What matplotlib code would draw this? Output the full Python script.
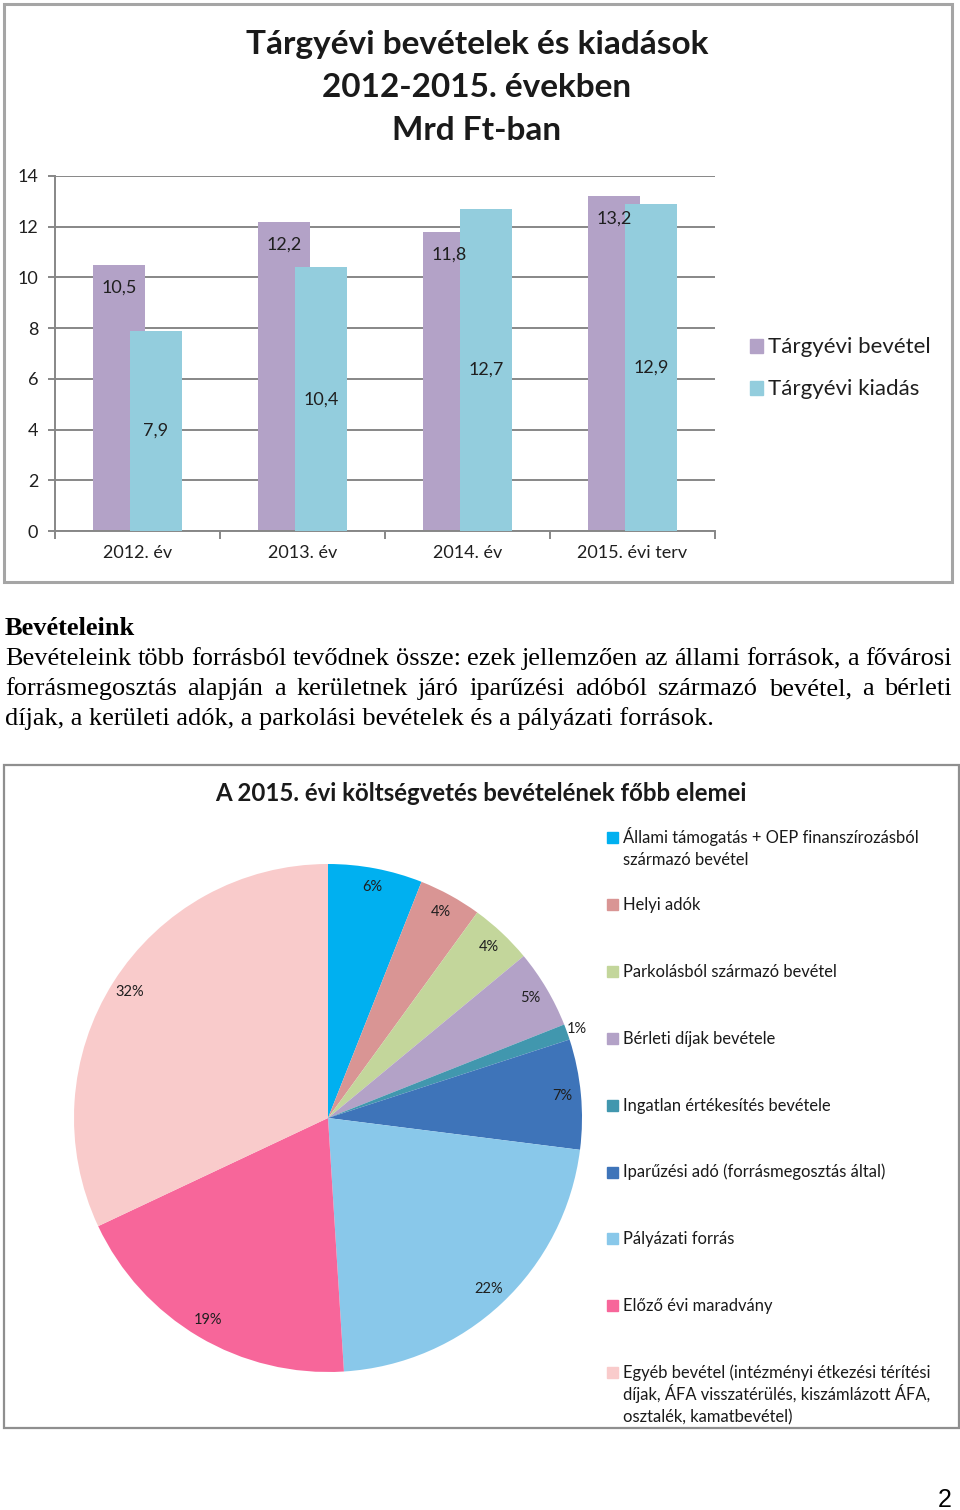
import numpy as np
import matplotlib
matplotlib.use("Agg")
import matplotlib.pyplot as plt
from matplotlib.patches import Rectangle

# bar chart data (Mrd Ft)
years = ["2012. év", "2013. év", "2014. év", "2015. évi terv"]
bevetel = [10.5, 12.2, 11.8, 13.2]
kiadas = [7.9, 10.4, 12.7, 12.9]
bar_series = ["Tárgyévi bevétel", "Tárgyévi kiadás"]
bar_title = ["Tárgyévi bevételek és kiadások", "2012-2015. években", "Mrd Ft-ban"]

# text between the charts
heading = "Bevételeink"
para_lines = [
    "Bevételeink több forrásból tevődnek össze: ezek jellemzően az állami források, a fővárosi",
    "forrásmegosztás alapján a kerületnek járó iparűzési adóból származó bevétel, a bérleti",
    "díjak, a kerületi adók, a parkolási bevételek és a pályázati források.",
]

# pie chart data (%)
pie_title = "A 2015. évi költségvetés bevételének főbb elemei"
pie_labels = [
    "Állami támogatás + OEP finanszírozásból\nszármazó bevétel",
    "Helyi adók",
    "Parkolásból származó bevétel",
    "Bérleti díjak bevétele",
    "Ingatlan értékesítés bevétele",
    "Iparűzési adó (forrásmegosztás által)",
    "Pályázati forrás",
    "Előző évi maradvány",
    "Egyéb bevétel (intézményi étkezési térítési\ndíjak, ÁFA visszatérülés, kiszámlázott ÁFA,\nosztalék, kamatbevétel)",
]
pie_values = [6, 4, 4, 5, 1, 7, 22, 19, 32]

bar_colors = ["#B3A2C7", "#93CDDD"]
pie_colors = ["#00B0F0", "#D99594", "#C3D69B", "#B3A2C7", "#4197AE",
              "#3E74B9", "#89C8EA", "#F7669A", "#F9CBCB"]

SANS = ["Lato", "DejaVu Sans"]
SERIF = ["Liberation Serif", "DejaVu Serif"]
TXT = "#1F1F1F"
GRID = "#878787"

W, H = 960, 1510
fig = plt.figure(figsize=(9.6, 15.1), dpi=100)
fig.patch.set_facecolor("white")
renderer = fig.canvas.get_renderer()


def fx(px):
    return px / W


def fy(py):
    return 1 - py / H


def fit(t, width_px):
    # scale font so the text is width_px wide
    bb = t.get_window_extent(renderer)
    t.set_fontsize(t.get_fontsize() * width_px / bb.width)
    return t.get_fontsize()


# frames around the two charts
fig.patches.append(Rectangle((fx(4), fy(582)), 948 / W, 578 / H, transform=fig.transFigure,
                             fill=False, ec="#A5A5A5", lw=2.2))
fig.patches.append(Rectangle((fx(4), fy(1428)), 955 / W, 663 / H, transform=fig.transFigure,
                             fill=False, ec="#8F8F8F", lw=1.6))

# ---- bar chart ----
for i, line in enumerate(bar_title):
    t = fig.text(fx(477), fy(54 + 43 * i), line, ha="center", va="baseline",
                 fontsize=21, fontweight="bold", color="#1A1A1A", family=SANS)
    if i == 0:
        title_size = fit(t, 463)
    else:
        t.set_fontsize(title_size)

ax = fig.add_axes([fx(55), fy(531), 660 / W, 355 / H])
x = np.arange(len(years))
w, off = 0.31, 0.112
b1 = ax.bar(x - off, bevetel, w, color=bar_colors[0], zorder=2)
b2 = ax.bar(x + off, kiadas, w, color=bar_colors[1], zorder=3)
ax.set_xlim(-0.5, len(years) - 0.5)
ax.set_ylim(0, 14)
ax.set_yticks(range(0, 15, 2))
ax.grid(axis="y", color=GRID, lw=1.4, zorder=0)
ax.set_axisbelow(True)
for s in ["top", "right"]:
    ax.spines[s].set_visible(False)
for s in ["left", "bottom"]:
    ax.spines[s].set_color(GRID)
    ax.spines[s].set_linewidth(1.4)
ax.tick_params(axis="y", length=5, width=1.4, color=GRID, labelsize=13, labelcolor=TXT, pad=7)
ax.set_xticks(x, years)
ax.set_xticks(np.arange(-0.5, len(years), 1), minor=True)
ax.tick_params(axis="x", which="major", length=0, pad=10, labelsize=13, labelcolor=TXT)
ax.tick_params(axis="x", which="minor", length=6, width=1.4, color=GRID)
for lab in ax.get_xticklabels() + ax.get_yticklabels():
    lab.set_family(SANS)

for r, v in zip(b1, bevetel):
    ax.text(r.get_x() + r.get_width() / 2, v - 0.9, f"{v:.1f}".replace(".", ","),
            ha="center", va="center", fontsize=13, color=TXT, family=SANS, zorder=4)
for r, v in zip(b2, kiadas):
    ax.text(r.get_x() + r.get_width() / 2, v / 2, f"{v:.1f}".replace(".", ","),
            ha="center", va="center", fontsize=13, color=TXT, family=SANS, zorder=4)

for i, (name, c) in enumerate(zip(bar_series, bar_colors)):
    fig.patches.append(Rectangle((fx(750), fy(353 + 42 * i)), 13 / W, 14 / H,
                                 transform=fig.transFigure, color=c))
    t = fig.text(fx(768), fy(353 + 42 * i), name, va="baseline", fontsize=15,
                 color=TXT, family=SANS)
    if i == 0:
        leg_size = fit(t, 162)
    else:
        t.set_fontsize(leg_size)

# ---- paragraph ----
t = fig.text(fx(5), fy(695), para_lines[2], va="baseline", fontsize=16, family=SERIF, color="black")
para_size = fit(t, 709)
fig.text(fx(5), fy(635), heading, va="baseline", fontsize=para_size, fontweight="bold",
         family=SERIF, color="black")
for j, line in enumerate(para_lines[:2]):
    words = line.split()
    ts = [fig.text(0, fy(665 + 30 * j), wd, va="baseline", fontsize=para_size,
                   family=SERIF, color="black") for wd in words]
    widths = [tt.get_window_extent(renderer).width for tt in ts]
    gap = (952 - 5 - sum(widths)) / (len(words) - 1)
    xp = 5
    for tt, wd in zip(ts, widths):
        tt.set_x(fx(xp))
        xp += wd + gap
t.set_y(fy(725))

# ---- pie chart ----
t = fig.text(fx(481), fy(801), pie_title, ha="center", va="baseline", fontsize=15,
             fontweight="bold", color="#1A1A1A", family=SANS)
fit(t, 534)

R = 254
ax2 = fig.add_axes([fx(328 - R), fy(1118 + R), 2 * R / W, 2 * R / H])
wedges, _ = ax2.pie(pie_values, colors=pie_colors, startangle=90, counterclock=False,
                    radius=1, wedgeprops=dict(linewidth=0))
ax2.set_xlim(-1, 1)
ax2.set_ylim(-1, 1)
ax2.set_aspect("equal")
ax2.axis("off")
for wd, v in zip(wedges, pie_values):
    ang = np.deg2rad((wd.theta1 + wd.theta2) / 2)
    d = 1.04 if v < 2 else 0.925
    ax2.text(d * np.cos(ang), d * np.sin(ang), f"{v}%", ha="center", va="center",
             fontsize=10.5, color=TXT, family=SANS)

leg_font = None
for i, (lab, c) in enumerate(zip(pie_labels, pie_colors)):
    base = 843 + 66.9 * i
    fig.patches.append(Rectangle((fx(607), fy(base)), 11 / W, 11 / H,
                                 transform=fig.transFigure, color=c))
    for k, ln in enumerate(lab.split("\n")):
        tt = fig.text(fx(623), fy(base + 22 * k), ln, va="baseline", fontsize=11,
                      color="#1A1A1A", family=SANS)
        if leg_font is None:
            leg_font = fit(tt, 295)
        else:
            tt.set_fontsize(leg_font)

fig.text(fx(952), fy(1507), "2", ha="right", va="baseline", fontsize=18,
         family=["Liberation Sans", "DejaVu Sans"], color="black")

fig.savefig("out.png", dpi=100)
